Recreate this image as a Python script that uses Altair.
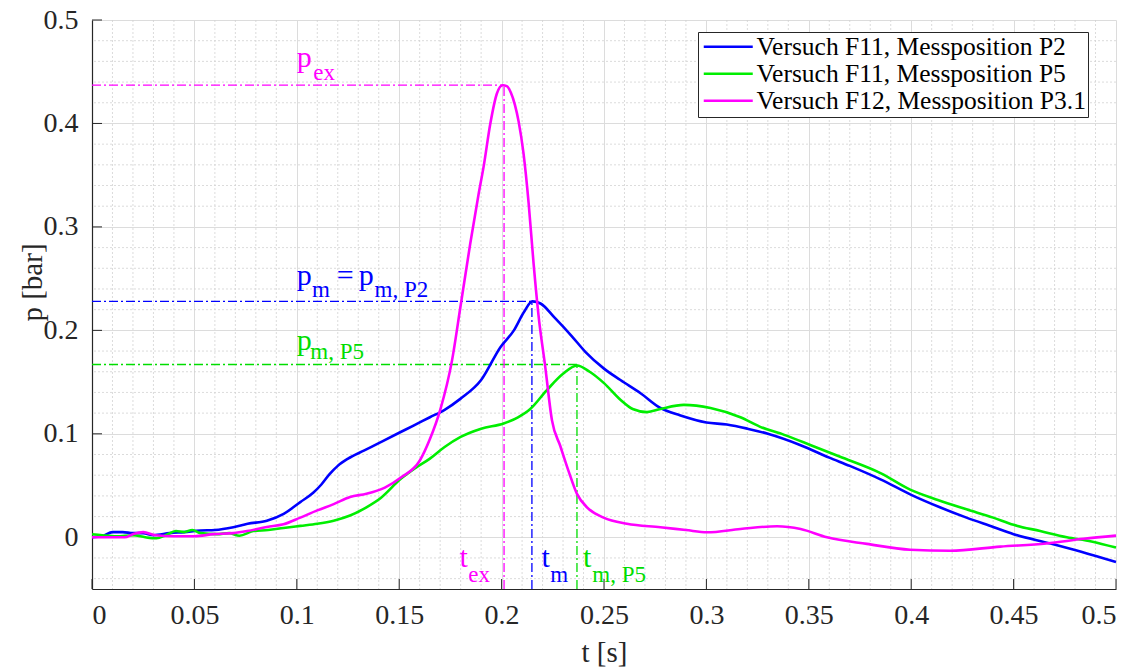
import altair as alt
import pandas as pd

# ---------------- data ----------------
SERIES = ["Versuch F11, Messposition P2",
          "Versuch F11, Messposition P5",
          "Versuch F12, Messposition P3.1"]
COLORS = ["#0000ff", "#00ee00", "#ff00ff"]

t_p2 = [0, 0.005, 0.01, 0.015, 0.02, 0.025, 0.03, 0.038, 0.045, 0.053, 0.06, 0.069, 0.076,
        0.0854, 0.0936, 0.1017, 0.108, 0.112, 0.116, 0.12, 0.125, 0.133, 0.141, 0.15, 0.157,
        0.165, 0.172, 0.18, 0.19, 0.1995, 0.206, 0.211, 0.215, 0.219, 0.226, 0.234, 0.241,
        0.25, 0.258, 0.268, 0.2775, 0.287, 0.3, 0.31, 0.32, 0.33, 0.346, 0.36, 0.37, 0.385,
        0.4, 0.414, 0.427, 0.44, 0.45, 0.468, 0.483, 0.5]
p_p2 = [0, 0.001, 0.005, 0.005, 0.004, 0.004, 0.002, 0.004, 0.005, 0.0065, 0.007, 0.0097, 0.013,
        0.016, 0.0226, 0.034, 0.043, 0.051, 0.061, 0.069, 0.076, 0.084, 0.092, 0.101, 0.108,
        0.116, 0.123, 0.134, 0.152, 0.184, 0.2, 0.218, 0.228, 0.226, 0.212, 0.195, 0.179,
        0.163, 0.152, 0.139, 0.125, 0.118, 0.111, 0.109, 0.105, 0.1, 0.089, 0.077, 0.069, 0.056,
        0.041, 0.029, 0.019, 0.010, 0.003, -0.006, -0.014, -0.024]

t_p5 = [0, 0.005, 0.012, 0.02, 0.026, 0.0315, 0.036, 0.041, 0.045, 0.049, 0.053, 0.061, 0.067,
        0.072, 0.0787, 0.086, 0.0935, 0.1017, 0.11, 0.118, 0.126, 0.134, 0.141, 0.1505, 0.158,
        0.165, 0.172, 0.18, 0.19, 0.201, 0.208, 0.214, 0.222, 0.23, 0.2368, 0.243, 0.25, 0.258,
        0.264, 0.271, 0.2775, 0.289, 0.302, 0.3166, 0.326, 0.338, 0.351, 0.365, 0.385, 0.3995,
        0.413, 0.427, 0.44, 0.45, 0.463, 0.476, 0.488, 0.5]
p_p5 = [0.003, 0.002, 0.001, 0.002, 0.0, -0.001, 0.002, 0.006, 0.005, 0.007, 0.004, 0.003, 0.004,
        0.0015, 0.006, 0.007, 0.009, 0.011, 0.013, 0.016, 0.021, 0.029, 0.038, 0.056, 0.067,
        0.076, 0.087, 0.097, 0.105, 0.11, 0.116, 0.124, 0.142, 0.158, 0.166, 0.16, 0.149, 0.133,
        0.124, 0.121, 0.124, 0.128, 0.125, 0.116, 0.107, 0.099, 0.089, 0.078, 0.062, 0.046,
        0.036, 0.027, 0.019, 0.012, 0.006, 0.0, -0.004, -0.01]

t_p31 = [0, 0.01, 0.016, 0.02, 0.025, 0.031, 0.04, 0.05, 0.0594, 0.069, 0.0757, 0.0854, 0.0935,
         0.1017, 0.11, 0.118, 0.126, 0.134, 0.143, 0.151, 0.16, 0.165, 0.17, 0.1758, 0.18,
         0.1847, 0.1888, 0.1912, 0.1945, 0.1977, 0.2005, 0.2025, 0.2045, 0.2065, 0.2083, 0.2107,
         0.2132, 0.2156, 0.218, 0.2213, 0.2246, 0.2287, 0.2327, 0.2368, 0.2417, 0.2498, 0.2612,
         0.2775, 0.29, 0.3003, 0.3166, 0.3345, 0.346, 0.3589, 0.3784, 0.3995, 0.419, 0.4435,
         0.466, 0.4842, 0.5]
p_p31 = [0, 0.0, 0.0, 0.003, 0.005, 0.002, 0.001, 0.001, 0.003, 0.004, 0.006, 0.01, 0.0125,
         0.019, 0.026, 0.032, 0.039, 0.042, 0.048, 0.058, 0.074, 0.095, 0.123, 0.171, 0.224,
         0.284, 0.332, 0.358, 0.400, 0.429, 0.437, 0.436, 0.43, 0.418, 0.402, 0.371,
         0.323, 0.265, 0.215, 0.165, 0.113, 0.088, 0.064, 0.042, 0.029, 0.019, 0.013,
         0.0097, 0.007, 0.0048, 0.008, 0.0107, 0.008, 0.0, -0.0064, -0.012, -0.013, -0.009,
         -0.006, -0.0015, 0.0016]

# characteristic values (peaks)
PEAK_T = [0.2148, 0.2368, 0.2012]
PEAK_P = [0.228, 0.167, 0.437]
PEAK_COL = ["#0000ff", "#00dd00", "#ff00ff"]

X_TICKS = [0, 0.05, 0.1, 0.15, 0.2, 0.25, 0.3, 0.35, 0.4, 0.45, 0.5]
Y_TICKS = [0, 0.1, 0.2, 0.3, 0.4, 0.5]
X_MINOR = [round(i * 0.01, 2) for i in range(51) if i % 5 != 0]
Y_MINOR = [round(-0.04 + i * 0.02, 2) for i in range(27) if (i - 2) % 5 != 0]

# annotation pieces: text, t, p, font size, colour
ANN_TEXT = ["p", "ex",
            "p", "m", "=", "p", "m, P2",
            "p", "m, P5",
            "t", "ex",
            "t", "m",
            "t", "m, P5"]
ANN_T = [0.1000, 0.1080,
         0.1000, 0.1074, 0.1195, 0.1303, 0.1380,
         0.1000, 0.1066,
         0.1795, 0.1837,
         0.2195, 0.2238,
         0.2397, 0.2443]
ANN_P = [0.455, 0.442,
         0.2437, 0.2323, 0.2437, 0.2437, 0.2323,
         0.1807, 0.1727,
         -0.029, -0.0436,
         -0.029, -0.0436,
         -0.029, -0.0436]
ANN_SIZE = [30, 23, 30, 23, 30, 30, 23, 30, 23, 30, 23, 30, 23, 30, 23]
ANN_COL = ["#ff00ff"] * 2 + ["#0000ff"] * 5 + ["#00dd00"] * 2 + ["#ff00ff"] * 2 + ["#0000ff"] * 2 + ["#00dd00"] * 2

# ---------------- tables ----------------
lines = pd.concat([
    pd.DataFrame({"t": t_p2, "p": p_p2, "s": SERIES[0]}),
    pd.DataFrame({"t": t_p5, "p": p_p5, "s": SERIES[1]}),
    pd.DataFrame({"t": t_p31, "p": p_p31, "s": SERIES[2]}),
])
peaks = pd.DataFrame({"t": PEAK_T, "p": PEAK_P, "c": PEAK_COL, "t0": 0.0, "pb": -0.05})
ann = pd.DataFrame({"txt": ANN_TEXT, "t": ANN_T, "p": ANN_P, "fs": ANN_SIZE, "c": ANN_COL})

W, H = 1024, 569
FONT = "Liberation Serif, 'Times New Roman', Times, 'DejaVu Serif', serif"
xsc = alt.Scale(domain=[0, 0.5], nice=False, zero=False)
ysc = alt.Scale(domain=[-0.05, 0.5], nice=False, zero=False)

x_axis = alt.Axis(values=X_TICKS, format="~g", ticks=False, labelPadding=12, grid=True,
                  labelFont=FONT, labelFontSize=28, titleFont=FONT, titleFontSize=29,
                  title="t [s]", titleX=512, titleY=72, titleBaseline="alphabetic",
                  titleAlign="center")
y_axis = alt.Axis(values=Y_TICKS, format="~g", ticks=False, labelPadding=14, grid=True,
                  labelFont=FONT, labelFontSize=28, titleFont=FONT, titleFontSize=29,
                  title="p [bar]", titleX=-60, titleY=262, titleAngle=270,
                  titleBaseline="middle", titleAlign="center")

X = lambda f: alt.X(f, scale=xsc, axis=x_axis)
Y = lambda f: alt.Y(f, scale=ysc, axis=y_axis)

minor_x = alt.Chart(pd.DataFrame({"v": X_MINOR})).mark_rule(
    color="#d2d2d2", strokeDash=[2, 2], strokeWidth=0.8).encode(x=X("v:Q"))
minor_y = alt.Chart(pd.DataFrame({"v": Y_MINOR})).mark_rule(
    color="#d2d2d2", strokeDash=[2, 2], strokeWidth=0.8).encode(y=Y("v:Q"))

ticks_x = alt.Chart(pd.DataFrame({"v": X_TICKS})).mark_rule(color="#262626", strokeWidth=1).encode(
    x=X("v:Q"), y=alt.value(H), y2=alt.value(H - 10))
ticks_y = alt.Chart(pd.DataFrame({"v": Y_TICKS})).mark_rule(color="#262626", strokeWidth=1).encode(
    y=Y("v:Q"), x=alt.value(0), x2=alt.value(10))

dash = [9, 3, 2, 3]
ref_h = alt.Chart(peaks).mark_rule(strokeWidth=1.3, strokeDash=dash).encode(
    x=X("t0:Q"), x2="t:Q", y=Y("p:Q"), color=alt.Color("c:N", scale=None))
ref_v = alt.Chart(peaks).mark_rule(strokeWidth=1.3, strokeDash=dash).encode(
    x=X("t:Q"), y=Y("pb:Q"), y2="p:Q", color=alt.Color("c:N", scale=None))

data_lines = alt.Chart(lines).mark_line(strokeWidth=2.6, interpolate="monotone").encode(
    x=X("t:Q"),
    y=Y("p:Q"),
    color=alt.Color("s:N", sort=SERIES,
                    scale=alt.Scale(domain=SERIES, range=COLORS),
                    legend=alt.Legend(title=None, orient="none", legendX=606, legendY=12,
                                      symbolType="M-4.9,0L4.9,0", symbolSize=100,
                                      symbolStrokeWidth=2.6, symbolOffset=15.5,
                                      labelOffset=15.5, labelFont=FONT, labelFontSize=25.5,
                                      labelColor="#000000", labelLimit=600,
                                      padding=2, rowPadding=0,
                                      fillColor="#ffffff", strokeColor="#262626")),
    order="s:N",
)

texts = alt.Chart(ann).mark_text(align="left", baseline="alphabetic", font=FONT).encode(
    x=X("t:Q"), y=Y("p:Q"), text="txt:N",
    size=alt.Size("fs:Q", scale=None), color=alt.Color("c:N", scale=None))

chart = alt.layer(minor_x, minor_y, ticks_x, ticks_y, ref_h, ref_v, data_lines, texts).properties(
    width=W, height=H,
    padding={"left": 92, "top": 20, "right": 24, "bottom": 80},
    autosize=alt.AutoSizeParams(type="none"),
    background="#ffffff",
).configure_view(stroke=None).configure_axis(
    labelFont=FONT, labelFontSize=28, labelColor="#262626",
    titleFont=FONT, titleFontSize=29, titleFontWeight="normal", titleColor="#262626",
    gridColor="#dcdcdc", gridWidth=1, domainColor="#262626", domainWidth=1.2,
).configure_legend(labelFont=FONT).configure_text(font=FONT).resolve_scale(color="independent")

chart.save("out.html", embed_options={"renderer": "svg", "actions": False})
